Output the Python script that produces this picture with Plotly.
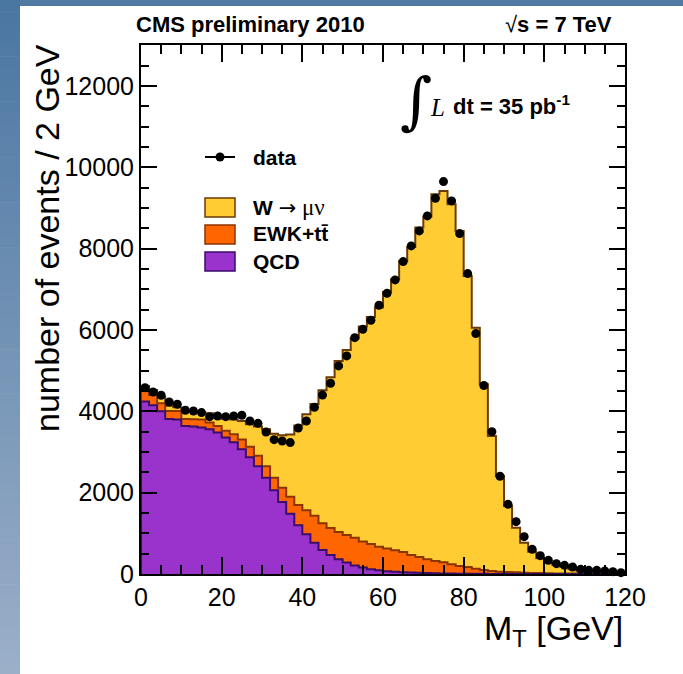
import numpy as np
import plotly.graph_objects as go

# Transverse mass M_T in 2 GeV bins from 0 to 120 GeV
bin_edges = np.arange(0, 122, 2)
bin_centers = bin_edges[:-1] + 1

# Observed events per bin
data_counts = [
    4583, 4477, 4395, 4231, 4174, 4026, 4010, 3969, 3870, 3887,
    3870, 3887, 3903, 3764, 3706, 3493, 3304, 3272, 3231, 3590,
    3764, 4100, 4400, 4690, 5117, 5363, 5813, 6018, 6240, 6609,
    6904, 7232, 7683, 8069, 8438, 8807, 9242, 9651, 9176, 8372,
    7388, 5912, 4635, 3501, 2403, 1714, 1287, 918, 607, 451,
    336, 254, 213, 172, 115, 90, 90, 74, 57, 33,
]

# Expected QCD multijet background per bin
qcd_counts = [
    4240, 4150, 4000, 3810, 3800, 3640, 3630, 3600, 3560, 3480,
    3360, 3240, 3070, 2870, 2650, 2370, 2060, 1770, 1480, 1200,
    980, 770, 590, 470, 360, 280, 210, 160, 115, 90,
    70, 58, 45, 35, 28, 22, 17, 13, 10, 8,
    6, 5, 4, 3, 2, 2, 1, 1, 1, 1,
    1, 1, 1, 1, 1, 1, 1, 1, 1, 1,
]

# Expected electroweak + ttbar background per bin
ewk_counts = [
    260, 250, 200, 200, 210, 170, 175, 200, 165, 160,
    160, 200, 240, 260, 260, 280, 310, 350, 420, 500,
    590, 660, 660, 660, 670, 680, 680, 640, 625, 580,
    560, 525, 496, 432, 390, 339, 303, 274, 228, 189,
    166, 126, 94, 71, 55, 48, 40, 32, 26, 21,
    17, 14, 11, 9, 7, 6, 5, 4, 3, 3,
]

# Expected W -> mu nu signal per bin
w_counts = [
    125, 126, 162, 130, 90, 200, 180, 170, 227, 206,
    301, 360, 454, 550, 720, 909, 1082, 1291, 1530, 1950,
    2358, 2750, 3270, 3710, 4210, 4550, 4907, 5284, 5582, 5882,
    6307, 6666, 7159, 7577, 8101, 8429, 9020, 9135, 8856, 8241,
    7159, 5928, 4568, 3321, 2354, 1623, 1099, 738, 522, 363,
    261, 206, 160, 110, 72, 48, 29, 15, 11, 6,
]

legend_labels = [
    "<b>data</b>",
    "<b>W</b> <span style='font-family:DejaVu Sans'>\u2192</span>"
    "<span style='font-family:Liberation Serif;font-size:23px'> \u03bc\u03bd</span>",
    "<b>EWK+tt\u0304</b>",
    "<b>QCD</b>",
]

# Fill / outline colours for the stacked components
W_FILL, W_LINE = "#FFCC33", "#6B3A05"
EWK_FILL, EWK_LINE = "#FF6600", "#8A3500"
QCD_FILL, QCD_LINE = "#9933CC", "#3A0D6B"

# Figure geometry (plot frame in page pixels)
WIDTH, HEIGHT = 683, 674
FX0, FX1, FY0, FY1 = 141, 625, 45, 574
Y_MAX = 13010


def px(xp):
    return (xp - FX0) / (FX1 - FX0)


def py(yp):
    return (FY1 - yp) / (FY1 - FY0)


qcd = np.array(qcd_counts, dtype=float)
ewk_stack = qcd + np.array(ewk_counts, dtype=float)
total_stack = ewk_stack + np.array(w_counts, dtype=float)


def step_outline(values):
    """Closed step outline of a histogram: up at the first edge, down at the last."""
    xs = np.concatenate([[bin_edges[0]], bin_edges, [bin_edges[-1]]])
    ys = np.concatenate([[0.0], values, [values[-1], 0.0]])
    return xs, ys


fig = go.Figure()

for vals, fillc, linec, name in [
    (total_stack, W_FILL, W_LINE, "W"),
    (ewk_stack, EWK_FILL, EWK_LINE, "EWK"),
    (qcd, QCD_FILL, QCD_LINE, "QCD"),
]:
    xs, ys = step_outline(vals)
    fig.add_trace(go.Scatter(
        x=xs, y=ys, mode="lines", line=dict(shape="hv", color=linec, width=2),
        fill="tozeroy", fillcolor=fillc, name=name, showlegend=False,
        hoverinfo="skip",
    ))

fig.add_trace(go.Scatter(
    x=bin_centers, y=data_counts, mode="markers",
    marker=dict(color="black", size=9, symbol="circle"),
    name="data", showlegend=False, cliponaxis=False,
))

shapes = []
annotations = []

# Slide background: blue strips along the top and left edges
shapes.append(dict(type="rect", xref="paper", yref="paper", layer="below",
                   x0=px(0), x1=px(WIDTH), y0=py(6), y1=py(0),
                   fillcolor="#5079a3", line=dict(width=0)))
n_bands = 60
c_top = np.array([74, 118, 162])
c_bot = np.array([156, 176, 201])
for i in range(n_bands):
    t = (i + 0.5) / n_bands
    c = (c_top + (c_bot - c_top) * t).astype(int)
    y0p = HEIGHT * i / n_bands
    y1p = HEIGHT * (i + 1) / n_bands + 0.6
    shapes.append(dict(type="rect", xref="paper", yref="paper", layer="below",
                       x0=px(0), x1=px(20), y0=py(y1p), y1=py(y0p),
                       fillcolor=f"rgb({c[0]},{c[1]},{c[2]})", line=dict(width=0)))

# Legend: data entry (marker with horizontal bar)
shapes.append(dict(type="line", xref="paper", yref="paper",
                   x0=px(205), x1=px(235), y0=py(157), y1=py(157),
                   line=dict(color="black", width=2)))
shapes.append(dict(type="circle", xref="paper", yref="paper",
                   x0=px(215.5), x1=px(224.5), y0=py(161.5), y1=py(152.5),
                   fillcolor="black", line=dict(color="black", width=0)))

# Legend: filled boxes for the stacked components
for (ytop, ybot), fillc, linec in [((198, 217), W_FILL, W_LINE),
                                   ((225, 244), EWK_FILL, EWK_LINE),
                                   ((252, 271), QCD_FILL, QCD_LINE)]:
    shapes.append(dict(type="rect", xref="paper", yref="paper",
                       x0=px(205), x1=px(235), y0=py(ybot), y1=py(ytop),
                       fillcolor=fillc, line=dict(color=linec, width=1.5)))

legend_y = [157, 207, 234, 261]
for lab, yl in zip(legend_labels, legend_y):
    annotations.append(dict(xref="paper", yref="paper", x=px(251), y=py(yl),
                            xanchor="left", yanchor="middle", text=lab, showarrow=False,
                            font=dict(family="Liberation Sans", size=21, color="black")))

# Header texts
annotations.append(dict(xref="paper", yref="paper", x=px(134), y=py(24),
                        xanchor="left", yanchor="middle", showarrow=False,
                        text="<b>CMS preliminary 2010</b>",
                        font=dict(family="Liberation Sans", size=22, color="black")))
annotations.append(dict(xref="paper", yref="paper", x=px(614), y=py(24),
                        xanchor="right", yanchor="middle", showarrow=False,
                        text="\u221a<b>s = 7 TeV</b>",
                        font=dict(family="Liberation Sans", size=22, color="black")))

# Integrated luminosity
annotations.append(dict(xref="paper", yref="paper", x=px(398), y=py(100),
                        xanchor="left", yanchor="middle", showarrow=False,
                        text="\u222b",
                        font=dict(family="DejaVu Serif", size=62, color="black")))
annotations.append(dict(xref="paper", yref="paper", x=px(428), y=py(107),
                        xanchor="left", yanchor="middle", showarrow=False,
                        text="<i>L</i>",
                        font=dict(family="Liberation Serif", size=25, color="black")))
annotations.append(dict(xref="paper", yref="paper", x=px(451), y=py(105),
                        xanchor="left", yanchor="middle", showarrow=False,
                        text="<b>dt = 35 pb<sup>-1</sup></b>",
                        font=dict(family="Liberation Sans", size=22, color="black")))

# Axis titles
annotations.append(dict(xref="paper", yref="paper", x=px(47), y=py(238),
                        xanchor="center", yanchor="middle", showarrow=False, textangle=-90,
                        text="number of events / 2 GeV",
                        font=dict(family="Liberation Sans", size=34, color="black")))
annotations.append(dict(xref="paper", yref="paper", x=1.0, y=py(630),
                        xanchor="right", yanchor="middle", showarrow=False,
                        text="M<sub>T</sub> [GeV]",
                        font=dict(family="Liberation Sans", size=34, color="black")))

axis_common = dict(
    showgrid=False, zeroline=False, showline=True, linecolor="black", linewidth=2,
    mirror="ticks", ticks="inside", tickcolor="black", tickwidth=1.5,
    tickfont=dict(family="Liberation Sans", size=25, color="black"),
)

fig.update_layout(
    width=WIDTH, height=HEIGHT,
    margin=dict(l=FX0, r=WIDTH - FX1, t=FY0, b=HEIGHT - FY1),
    paper_bgcolor="white", plot_bgcolor="white",
    showlegend=False,
    xaxis=dict(range=[0, 120], tick0=0, dtick=20, ticklen=17, tickformat="d",
               minor=dict(dtick=5, ticklen=9, ticks="inside", tickcolor="black", tickwidth=1.5),
               **axis_common),
    yaxis=dict(range=[0, Y_MAX], tick0=0, dtick=2000, ticklen=16, tickformat="d",
               minor=dict(dtick=500, ticklen=8, ticks="inside", tickcolor="black", tickwidth=1.5),
               **axis_common),
    shapes=shapes,
    annotations=annotations,
)

fig.write_html("out.html")
